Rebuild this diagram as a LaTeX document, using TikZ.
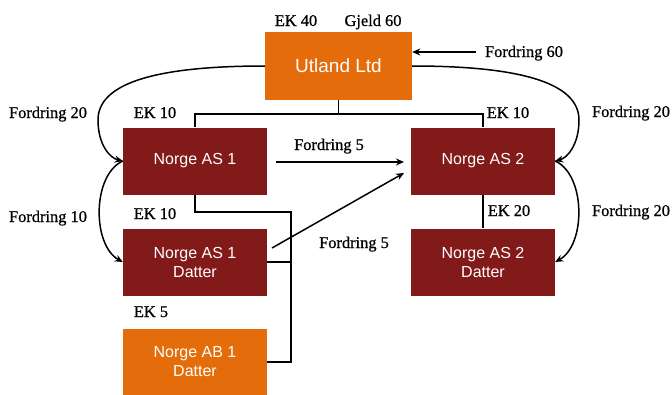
\documentclass[tikz,border=0pt]{standalone}
\usepackage{fontspec}
\setmainfont{Liberation Serif}
\newfontfamily\lblfont{Liberation Serif}[FakeBold=0.8]
\newfontfamily\boxfont{Liberation Sans}
\usetikzlibrary{arrows.meta}
\definecolor{orng}{RGB}{228,108,10}
\definecolor{mroon}{RGB}{130,26,26}
\begin{document}
\begin{tikzpicture}[x=1pt,y=-1pt,
  box/.style={minimum width=144pt,minimum height=67pt,inner sep=0pt,align=center,text=white,font=\boxfont\fontsize{16}{19}\selectfont},
  redbox/.style={box,fill=mroon},
  orbox/.style={box,fill=orng},
  lbl/.style={font=\lblfont\fontsize{16.4}{19}\selectfont,anchor=base,inner sep=0pt},
  conn/.style={line width=1.3pt},
  arr/.style={line width=1.5pt,-{Stealth[length=8pt,width=7pt]}}]
\useasboundingbox (0,0) rectangle (672,394);
% boxes
\node[orbox,minimum width=147pt,minimum height=68pt,font=\boxfont\fontsize{19}{22}\selectfont] (utl) at (338.5,66) {Utland Ltd};
\node[redbox] (as1) at (195,161) {Norge AS 1};
\node[redbox] (as2) at (483,161) {Norge AS 2};
\node[redbox] (as1d) at (195,262) {Norge AS 1\\Datter};
\node[redbox] (as2d) at (483,262) {Norge AS 2\\Datter};
\node[orbox,minimum height=66pt] (ab1d) at (195,362) {Norge AB 1\\Datter};
% ownership tree
\coordinate (t1) at (338.5,114);
\draw[conn] (utl.south) -- (t1) -| (as1.north);
\draw[conn] (t1) -| (as2.north);
\coordinate (j1) at (291,212);
\draw[conn] (as1.south) |- (j1) |- (ab1d.east);
\draw[conn] (as1d.east) -- (as1d.east -| j1);
\draw[conn] (as2.south) -- (as2d.north);
% claims
\coordinate (f60) at (476,52);
\draw[arr] (f60) -- (f60 -| utl.east);
\coordinate (lt) at (98,120);
\coordinate (rt) at (579,120);
\draw[arr] (utl.west) .. controls (150,66) and (98,85) .. (lt) .. controls (98,145) and (110,158) .. (as1.west);
\draw[arr] (utl.east) .. controls (527,66) and (579,85) .. (rt) .. controls (579,145) and (567,158) .. (as2.east);
\draw[arr] (as1.west) .. controls (92,175) and (92,245) .. (as1d.west);
\draw[arr] (as2.east) .. controls (586,175) and (586,245) .. (as2d.east);
\coordinate (f5a) at (276,162);
\coordinate (f5b) at (404,162);
\draw[arr] (f5a) -- (f5b);
\coordinate (f5c) at (272,248);
\coordinate (f5d) at (404,173);
\draw[arr] (f5c) -- (f5d);
% labels
\node[lbl] (l1) at (296,26) {EK 40};
\node[lbl] (l2) at (373,26) {Gjeld 60};
\node[lbl] (l3) at (524,57) {Fordring 60};
\node[lbl] (l4) at (48,118) {Fordring 20};
\node[lbl] (l5) at (155,118) {EK 10};
\node[lbl] (l6) at (508,118) {EK 10};
\node[lbl] (l7) at (631,117) {Fordring 20};
\node[lbl] (l8) at (329,150) {Fordring 5};
\node[lbl] (l9) at (48,222) {Fordring 10};
\node[lbl] (l10) at (155,219) {EK 10};
\node[lbl] (l11) at (354,248) {Fordring 5};
\node[lbl] (l12) at (509,216) {EK 20};
\node[lbl] (l13) at (631,216) {Fordring 20};
\node[lbl] (l14) at (151,317) {EK 5};
\end{tikzpicture}
\end{document}
